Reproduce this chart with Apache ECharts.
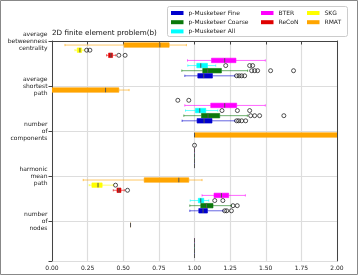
<!DOCTYPE html>
<html>
<head>
<meta charset="utf-8">
<script src="https://cdn.jsdelivr.net/npm/echarts@6/dist/echarts.min.js"></script>
<style>
html,body{margin:0;padding:0;background:#fff}
#main{width:358px;height:275px}
</style>
</head>
<body>
<div id="main"></div>
<script>
// 类别（y轴）
var categories = ['average\nbetweenness\ncentrality', 'average\nshortest\npath', 'number\nof\ncomponents', 'harmonic\nmean\npath', 'number\nof\nnodes'];
// 方法，从上到下的顺序
var methods = ['RMAT', 'SKG', 'ReCoN', 'BTER', 'p-Musketeer All', 'p-Musketeer Coarse', 'p-Musketeer Fine'];
var colors = ['#ffa500', '#ffff00', '#e00000', '#ff00ff', '#00ffff', '#0a780a', '#0000cd'];

// 箱线数据: [类别, 下须, Q1, 中位数, Q3, 上须]
var rmatBoxes = [[0, 0.091, 0.506, 0.757, 0.822, 0.943], [1, 0.0, 0.0, 0.376, 0.469, 0.541], [2, 1.0, 1.0, 1.0, 2.6, 3.2], [3, 0.219, 0.647, 0.890, 0.960, 1.053], [4, 0.551, 0.551, 0.551, 0.551, 0.551]];
var skgBoxes = [[0, 0.161, 0.177, 0.196, 0.208, 0.226], [3, 0.261, 0.280, 0.323, 0.352, 0.430]];
var reconBoxes = [[0, 0.383, 0.397, 0.413, 0.425, 0.448], [3, 0.430, 0.456, 0.469, 0.484, 0.508]];
var bterBoxes = [[0, 0.951, 1.119, 1.212, 1.291, 1.497], [1, 0.932, 1.114, 1.212, 1.296, 1.497], [2, 1, 1, 1, 1, 1], [3, 1.053, 1.137, 1.189, 1.240, 1.357], [4, 1, 1, 1, 1, 1]];
var allBoxes = [[0, 0.953, 1.016, 1.044, 1.091, 1.149], [1, 0.937, 1.007, 1.037, 1.079, 1.163], [2, 1, 1, 1, 1, 1], [3, 0.970, 1.027, 1.044, 1.065, 1.100], [4, 1, 1, 1, 1, 1]];
var coarseBoxes = [[0, 0.911, 1.058, 1.093, 1.189, 1.373], [1, 0.925, 1.049, 1.095, 1.177, 1.371], [2, 1, 1, 1, 1, 1], [3, 0.967, 1.044, 1.084, 1.130, 1.259], [4, 1, 1, 1, 1, 1]];
var fineBoxes = [[0, 0.932, 1.023, 1.065, 1.126, 1.282], [1, 0.913, 1.018, 1.067, 1.123, 1.282], [2, 1, 1, 1, 1, 1], [3, 0.967, 1.030, 1.060, 1.091, 1.200], [4, 1, 1, 1, 1, 1]];

// 离群点: [类别, 值]
var rmatFliers = [];
var skgFliers = [[0, 0.243], [0, 0.266], [3, 0.446]];
var reconFliers = [[0, 0.469], [0, 0.513], [1, 0.883], [1, 0.960], [2, 1.0], [3, 0.530]];
var bterFliers = [];
var allFliers = [[0, 1.219], [0, 1.387], [0, 1.408], [1, 1.193], [1, 1.301], [1, 1.387], [3, 1.142], [3, 1.199]];
var coarseFliers = [[0, 1.401], [0, 1.422], [0, 1.443], [0, 1.534], [0, 1.695], [1, 1.394], [1, 1.422], [1, 1.457], [1, 1.627], [3, 1.270], [3, 1.300]];
var fineFliers = [[0, 1.296], [0, 1.313], [0, 1.331], [0, 1.352], [1, 1.296], [1, 1.310], [1, 1.331], [1, 1.359], [3, 1.212], [3, 1.226], [3, 1.259]];

var boxSets = [rmatBoxes, skgBoxes, reconBoxes, bterBoxes, allBoxes, coarseBoxes, fineBoxes];
var flierSets = [rmatFliers, skgFliers, reconFliers, bterFliers, allFliers, coarseFliers, fineFliers];

function rowPos(cat, k) { return cat + 0.09 + k * 0.114; }

function renderBox(params, api) {
	var y = api.value(5);
	var p = [0, 1, 2, 3, 4].map(function (i) { return api.coord([api.value(i), y]); });
	var h = api.size([0, 0.1])[1];
	var c = api.visual('color');
	var cy = p[0][1];
	return {
		type: 'group',
		children: [
			{type: 'line', shape: {x1: p[0][0], y1: cy, x2: p[1][0], y2: cy}, style: {stroke: c, lineWidth: 1, opacity: 0.6}},
			{type: 'line', shape: {x1: p[3][0], y1: cy, x2: p[4][0], y2: cy}, style: {stroke: c, lineWidth: 1, opacity: 0.6}},
			{type: 'line', shape: {x1: p[0][0], y1: cy - h / 4, x2: p[0][0], y2: cy + h / 4}, style: {stroke: c, lineWidth: 1, opacity: 0.6}},
			{type: 'line', shape: {x1: p[4][0], y1: cy - h / 4, x2: p[4][0], y2: cy + h / 4}, style: {stroke: c, lineWidth: 1, opacity: 0.6}},
			{type: 'rect', shape: {x: p[1][0], y: cy - h / 2, width: p[3][0] - p[1][0], height: h}, style: {fill: c, stroke: c, lineWidth: 0.6}},
			{type: 'line', shape: {x1: p[2][0], y1: cy - h / 2, x2: p[2][0], y2: cy + h / 2}, style: {stroke: '#555', lineWidth: 1}}
		]
	};
}

var series = [];
var fliers = [];
methods.forEach(function (name, k) {
	series.push({
		name: name,
		type: 'custom',
		clip: true,
		renderItem: renderBox,
		itemStyle: {color: colors[k]},
		encode: {x: [0, 1, 2, 3, 4], y: 5},
		data: boxSets[k].map(function (b) { return [b[1], b[2], b[3], b[4], b[5], rowPos(b[0], k)]; }),
		z: 2
	});
	flierSets[k].forEach(function (f) { fliers.push([f[1], rowPos(f[0], k)]); });
});
series.push({
	name: 'fliers',
	type: 'scatter',
	symbol: 'circle',
	symbolSize: 4,
	clip: true,
	itemStyle: {color: 'rgba(0,0,0,0)', borderColor: '#111', borderWidth: 0.9},
	data: fliers,
	z: 3
});

var legendText = {fontFamily: 'DejaVu Sans', fontSize: 6, color: '#222', lineHeight: 6};
function legendCol(left, names) {
	return {
		orient: 'vertical', left: left, top: 10, itemWidth: 12.5, itemHeight: 4, itemGap: 3.2,
		icon: 'rect', selectedMode: false, padding: 0, z: 10,
		itemStyle: {borderWidth: 0},
		textStyle: legendText, data: names
	};
}

var chart = echarts.init(document.getElementById('main'), null, {renderer: 'canvas'});
chart.setOption({
	animation: false,
	title: {
		text: '2D finite element problem(b)', left: 52, top: 29.5, padding: 0,
		textStyle: {fontFamily: 'DejaVu Sans', fontSize: 7.2, fontWeight: 'normal', color: '#111'}
	},
	legend: [
		legendCol(171, ['p-Musketeer Fine', 'p-Musketeer Coarse', 'p-Musketeer All']),
		legendCol(261, ['BTER', 'ReCoN']),
		legendCol(307, ['SKG', 'RMAT'])
	],
	graphic: [
		{type: 'rect', shape: {x: 0.5, y: 0.5, width: 357, height: 274}, style: {fill: 'none', stroke: '#888', lineWidth: 1}, z: 100, silent: true},
		{type: 'rect', shape: {x: 167.5, y: 6.5, width: 180, height: 30, r: 2}, style: {fill: '#fff', stroke: '#cccccc', lineWidth: 1}, z: 1, silent: true}
	],
	grid: {left: 52, right: 21, top: 41, bottom: 14, outerBoundsMode: 'none'},
	xAxis: {
		type: 'value', min: 0, max: 2, interval: 0.25,
		axisLine: {show: true, lineStyle: {color: '#444', width: 1}},
		axisTick: {show: true, length: 3.5, lineStyle: {color: '#444'}},
		axisLabel: {fontFamily: 'DejaVu Sans', fontSize: 6, color: '#222', margin: 4,
			formatter: function (v) { return v.toFixed(2); }},
		splitLine: {show: true, lineStyle: {color: '#dddddd', width: 1.2}}
	},
	yAxis: [{
		type: 'value', inverse: true, min: 0, max: 4.89, interval: 1,
		axisLine: {show: true, onZero: false, lineStyle: {color: '#444', width: 1}},
		axisTick: {show: true, length: 3.5, lineStyle: {color: '#444'}},
		axisLabel: {fontFamily: 'DejaVu Sans', fontSize: 6, color: '#222', margin: 4.5, lineHeight: 7, align: 'right',
			formatter: function (v) { return (Math.abs(v - Math.round(v)) < 1e-6 && categories[Math.round(v)]) ? categories[Math.round(v)] : ''; }},
		splitLine: {show: true, lineStyle: {color: '#dddddd', width: 1.2}}
	}, {
		type: 'value', position: 'right', inverse: true, min: 0, max: 4.89,
		axisLine: {show: true, onZero: false, lineStyle: {color: '#444', width: 1}},
		axisTick: {show: false}, axisLabel: {show: false}, splitLine: {show: false}
	}],
	series: series
});
</script>
</body>
</html>
